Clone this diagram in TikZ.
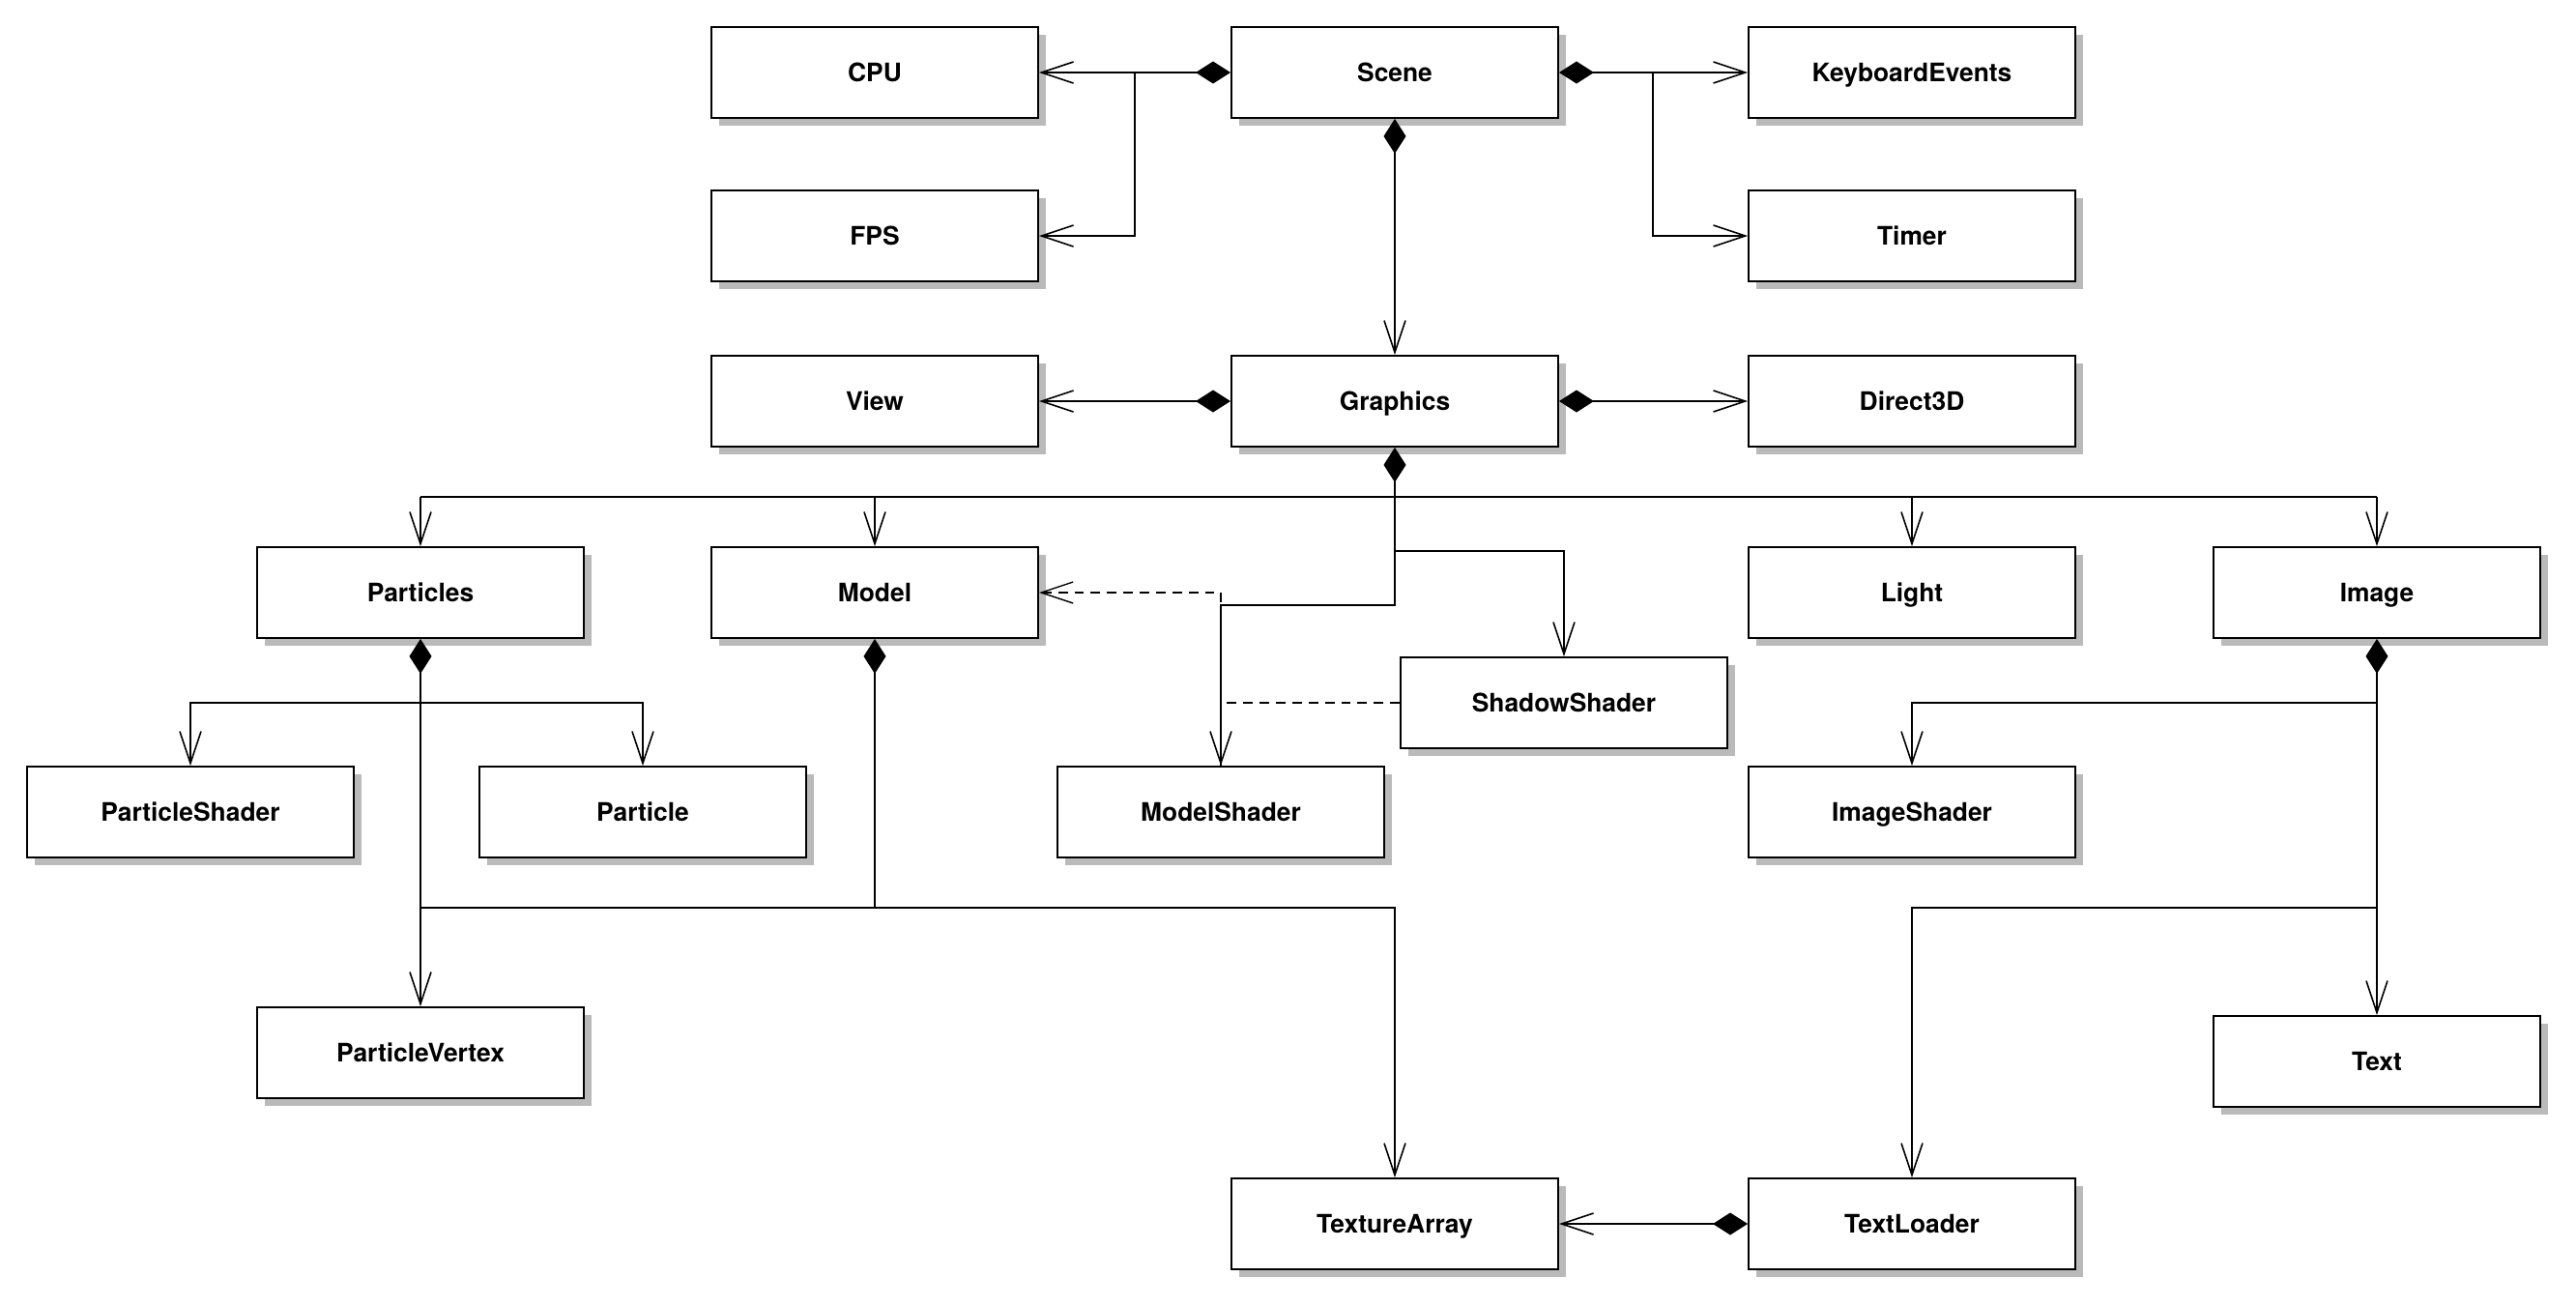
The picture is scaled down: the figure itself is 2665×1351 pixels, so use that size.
\documentclass[tikz,border=0pt]{standalone}
\usepackage{fontspec}
\setmainfont{TeX Gyre Heros}
\usetikzlibrary{arrows.meta,shadows}

\begin{document}
\begin{tikzpicture}[x=0.01cm,y=-0.01cm]
            \tikzstyle{every node}+=[inner sep=0pt, font=\fontsize{7.5}{9}\selectfont\bfseries]
            \tikzstyle{classbox}=[draw=black, line width=0.5pt, fill=white, minimum width=3.38cm, minimum height=0.94cm, text height=5.4pt, text depth=0pt, drop shadow={shadow xshift=0.08cm, shadow yshift=-0.08cm, fill=black!27, opacity=1}]
            \tikzstyle{link}=[black, line width=0.45pt]
            \tikzstyle{assoc}=[link, -{Straight Barb[length=0.33cm, width=0.22cm]}]
            \tikzstyle{comp}=[link, {Diamond[length=0.36cm, width=0.23cm]}-{Straight Barb[length=0.33cm, width=0.22cm]}]
            \tikzstyle{owns}=[link, {Diamond[length=0.36cm, width=0.23cm]}-]
            \tikzstyle{realize}=[black, line width=0.4pt, dash pattern=on 2.8pt off 2pt]
            \useasboundingbox (0,0) rectangle (2665,1351);
            \node[classbox] (cpu) at (905,75) {CPU};
            \node[classbox] (scene) at (1443,75) {Scene};
            \node[classbox] (keyboard) at (1978,75) {KeyboardEvents};
            \node[classbox] (fps) at (905,244) {FPS};
            \node[classbox] (timer) at (1978,244) {Timer};
            \node[classbox] (view) at (905,415) {View};
            \node[classbox] (graphics) at (1443,415) {Graphics};
            \node[classbox] (direct3d) at (1978,415) {Direct3D};
            \node[classbox] (particles) at (435,613) {Particles};
            \node[classbox] (model) at (905,613) {Model};
            \node[classbox] (light) at (1978,613) {Light};
            \node[classbox] (image) at (2459,613) {Image};
            \node[classbox] (shadowshader) at (1618,727) {ShadowShader};
            \node[classbox] (particleshader) at (197,840) {ParticleShader};
            \node[classbox] (particle) at (665,840) {Particle};
            \node[classbox] (modelshader) at (1263,840) {ModelShader};
            \node[classbox] (imageshader) at (1978,840) {ImageShader};
            \node[classbox] (particlevertex) at (435,1089) {ParticleVertex};
            \node[classbox] (text) at (2459,1098) {Text};
            \node[classbox] (texturearray) at (1443,1266) {TextureArray};
            \node[classbox] (textloader) at (1978,1266) {TextLoader};
            \coordinate (scenel) at (1174,75);
            \coordinate (scener) at (1710,75);
            \coordinate (gbus) at (1443,514);
            \coordinate (gshadow) at (1443,570);
            \coordinate (gmodel) at (1443,626);
            \coordinate (pbus) at (435,727);
            \coordinate (tbus) at (435,939);
            \coordinate (mbus) at (905,939);
            \coordinate (ibus) at (2459,727);
            \coordinate (lbus) at (2459,939);
            \draw[comp] (scene.west) -- (cpu.east);
            \draw[assoc] (scenel) |- (fps.east);
            \draw[comp] (scene.east) -- (keyboard.west);
            \draw[assoc] (scener) |- (timer.west);
            \draw[comp] (scene.south) -- (graphics.north);
            \draw[comp] (graphics.west) -- (view.east);
            \draw[comp] (graphics.east) -- (direct3d.west);
            \draw[comp] (graphics.south) -- (gmodel) -| (modelshader.north);
            \draw[link] (particles.north |- gbus) -- (image.north |- gbus);
            \foreach \cls in {particles,model,light,image}
                \draw[assoc] (\cls.north |- gbus) -- (\cls.north);
            \draw[assoc] (gshadow) -| (shadowshader.north);
            \draw[realize, -{Straight Barb[length=0.33cm, width=0.22cm]}] (modelshader.north) -- (modelshader.north |- model.east) -- (model.east);
            \draw[realize] (shadowshader.west) -- (modelshader.north |- shadowshader.west);
            \draw[comp] (particles.south) -- (particlevertex.north);
            \draw[assoc] (pbus) -| (particleshader.north);
            \draw[assoc] (pbus) -| (particle.north);
            \draw[assoc] (tbus) -| (texturearray.north);
            \draw[owns] (model.south) -- (mbus);
            \draw[comp] (image.south) -- (text.north);
            \draw[assoc] (ibus) -| (imageshader.north);
            \draw[assoc] (lbus) -| (textloader.north);
            \draw[comp] (textloader.west) -- (texturearray.east);
        \end{tikzpicture}
\end{document}
